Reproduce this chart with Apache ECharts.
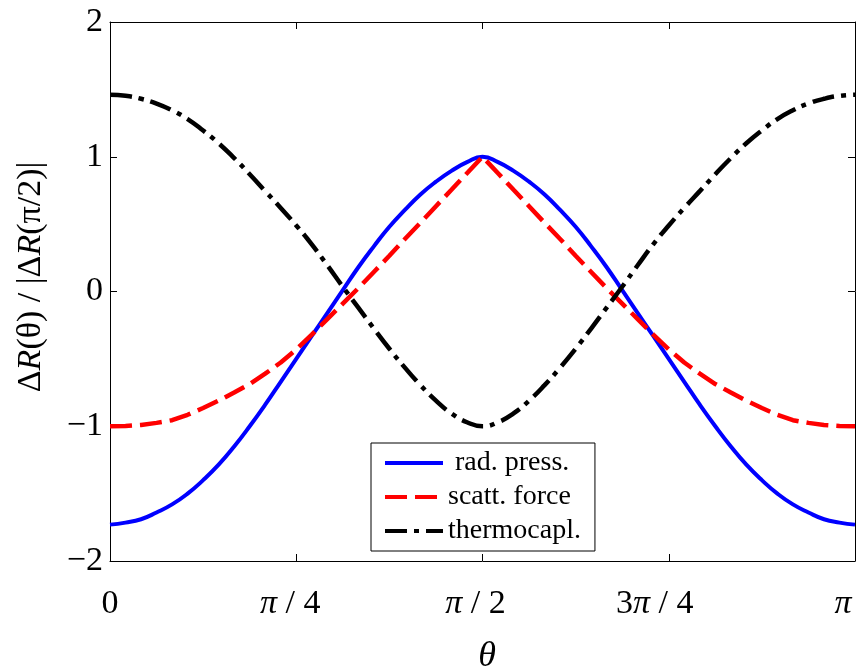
<!DOCTYPE html>
<html>
<head>
<meta charset="utf-8">
<script src="https://cdn.jsdelivr.net/npm/echarts@6/dist/echarts.min.js"></script>
<style>
  html, body { margin: 0; padding: 0; background: #fff; }
  #main { width: 856px; height: 669px; }
</style>
</head>
<body>
<div id="main"></div>
<script>
// theta in degrees, sampled every 3.75 deg (pi/48)
const theta = [0, 3.75, 7.5, 11.25, 15, 18.75, 22.5, 26.25, 30, 33.75, 37.5, 41.25, 45,
  48.75, 52.5, 56.25, 60, 63.75, 67.5, 71.25, 75, 78.75, 82.5, 86.25, 90,
  93.75, 97.5, 101.25, 105, 108.75, 112.5, 116.25, 120, 123.75, 127.5, 131.25, 135,
  138.75, 142.5, 146.25, 150, 153.75, 157.5, 161.25, 165, 168.75, 172.5, 176.25, 180];

// values (curves are symmetric about pi/2)
const radPress = [-1.73, -1.715, -1.69, -1.64, -1.58, -1.50, -1.40, -1.285, -1.15, -1.0, -0.84, -0.67, -0.50,
  -0.33, -0.16, 0.01, 0.18, 0.335, 0.48, 0.605, 0.72, 0.815, 0.895, 0.96, 1.0,
  0.96, 0.895, 0.815, 0.72, 0.605, 0.48, 0.335, 0.18, 0.01, -0.16, -0.33,
  -0.50, -0.67, -0.84, -1.0, -1.15, -1.285, -1.40, -1.50, -1.58, -1.64, -1.69, -1.715, -1.73];
const scattForce = [-1.0, -0.998, -0.99, -0.975, -0.955, -0.915, -0.865, -0.81, -0.75, -0.687, -0.61, -0.527, -0.43,
  -0.32, -0.205, -0.09, 0.025, 0.145, 0.265, 0.39, 0.51, 0.633, 0.755, 0.878, 1.0,
  0.878, 0.755, 0.633, 0.51, 0.39, 0.265, 0.145, 0.025, -0.09, -0.205, -0.32,
  -0.43, -0.527, -0.61, -0.687, -0.75, -0.81, -0.865, -0.915, -0.955, -0.975, -0.99, -0.998, -1.0];
const thermocapl = [1.46, 1.452, 1.43, 1.395, 1.345, 1.28, 1.195, 1.10, 0.99, 0.87, 0.745, 0.62, 0.49,
  0.35, 0.195, 0.035, -0.12, -0.275, -0.425, -0.565, -0.695, -0.81, -0.905, -0.97, -1.0,
  -0.97, -0.905, -0.81, -0.695, -0.565, -0.425, -0.275, -0.12, 0.035, 0.195, 0.35,
  0.49, 0.62, 0.745, 0.87, 0.99, 1.10, 1.195, 1.28, 1.345, 1.395, 1.43, 1.452, 1.46];

const xTickLabels = ['0', 'π / 4', 'π / 2', '3π / 4', 'π'];
const seriesNames = [' rad. press.', 'scatt. force', 'thermocapl.'];

const serif = "'Liberation Serif', 'Times New Roman', serif";

function pairs(ys) {
  return theta.map((t, i) => [t, ys[i]]);
}

// labels in the original sit a bit left of their ticks
const labelPad = [0, 12, 14, 28, 24];

const chart = echarts.init(document.getElementById('main'));

const boxAxisLine = { show: true, onZero: false, lineStyle: { color: '#000', width: 1 } };
const boxTick = { show: true, inside: true, length: 7, lineStyle: { color: '#000' } };

const option = {
  animation: false,
  backgroundColor: '#fff',
  grid: { left: 110, right: 1, top: 22, bottom: 108, containLabel: false, outerBoundsMode: 'none' },
  legend: {
    orient: 'vertical',
    left: 371,
    top: 443,
    padding: [6, 14, 6, 12],
    itemGap: 6,
    itemWidth: 58,
    itemHeight: 14,
    borderColor: '#000',
    borderWidth: 1,
    backgroundColor: '#fff',
    borderRadius: 0,
    itemStyle: { opacity: 0 },
    lineStyle: { width: 4 },
    textStyle: { fontFamily: serif, fontSize: 28, lineHeight: 28, color: '#000' },
    data: seriesNames
  },
  xAxis: [
    {
      type: 'value', min: 0, max: 180, interval: 45,
      name: 'θ', nameLocation: 'middle', nameGap: 78,
      nameTextStyle: { fontFamily: serif, fontSize: 36, fontStyle: 'italic', color: '#000', padding: [0, 0, 0, 9] },
      axisLine: boxAxisLine,
      axisTick: boxTick,
      splitLine: { show: false },
      axisLabel: {
        margin: 26,
        fontFamily: serif, fontSize: 34, color: '#000',
        formatter: function (v) {
          const i = Math.round(v / 45);
          let s = xTickLabels[i].replace('π', '{i|π}');
          if (labelPad[i]) s += '{p' + i + '|}';
          return s;
        },
        rich: {
          i: { fontFamily: serif, fontSize: 34, fontStyle: 'italic', color: '#000' },
          p1: { width: labelPad[1] }, p2: { width: labelPad[2] },
          p3: { width: labelPad[3] }, p4: { width: labelPad[4] }
        }
      }
    },
    {
      type: 'value', min: 0, max: 180, interval: 45, position: 'top',
      axisLine: boxAxisLine,
      axisTick: boxTick,
      axisLabel: { show: false },
      splitLine: { show: false }
    }
  ],
  yAxis: [
    {
      type: 'value', min: -2, max: 2, interval: 1,
      axisLine: boxAxisLine,
      axisTick: boxTick,
      splitLine: { show: false },
      axisLabel: {
        margin: 7,
        fontFamily: serif, fontSize: 34, color: '#000',
        formatter: v => String(v).replace('-', '−')
      }
    },
    {
      type: 'value', min: -2, max: 2, interval: 1, position: 'right',
      axisLine: boxAxisLine,
      axisTick: boxTick,
      axisLabel: { show: false },
      splitLine: { show: false }
    }
  ],
  graphic: [
    {
      type: 'text',
      x: 31, y: 277,
      rotation: Math.PI / 2,
      style: {
        text: 'Δ{i|R}(θ) / |Δ{i|R}(π/2)|',
        font: "34px 'Liberation Serif', 'Times New Roman', serif",
        fill: '#000',
        align: 'center',
        verticalAlign: 'middle',
        rich: {
          i: { fontFamily: serif, fontSize: 34, fontStyle: 'italic', fill: '#000' }
        }
      }
    }
  ],
  series: [
    {
      name: seriesNames[0], type: 'line', data: pairs(radPress),
      smooth: true, symbol: 'none',
      lineStyle: { color: '#0000ff', width: 4, type: 'solid' },
      itemStyle: { color: '#0000ff' }
    },
    {
      name: seriesNames[1], type: 'line', data: pairs(scattForce),
      smooth: false, symbol: 'none',
      lineStyle: { color: '#ff0000', width: 4.5, type: [22, 8] },
      itemStyle: { color: '#ff0000' }
    },
    {
      name: seriesNames[2], type: 'line', data: pairs(thermocapl),
      smooth: true, symbol: 'none',
      lineStyle: { color: '#000000', width: 4.5, type: [22, 7, 5, 7] },
      itemStyle: { color: '#000000' }
    }
  ]
};

chart.setOption(option);
</script>
</body>
</html>
